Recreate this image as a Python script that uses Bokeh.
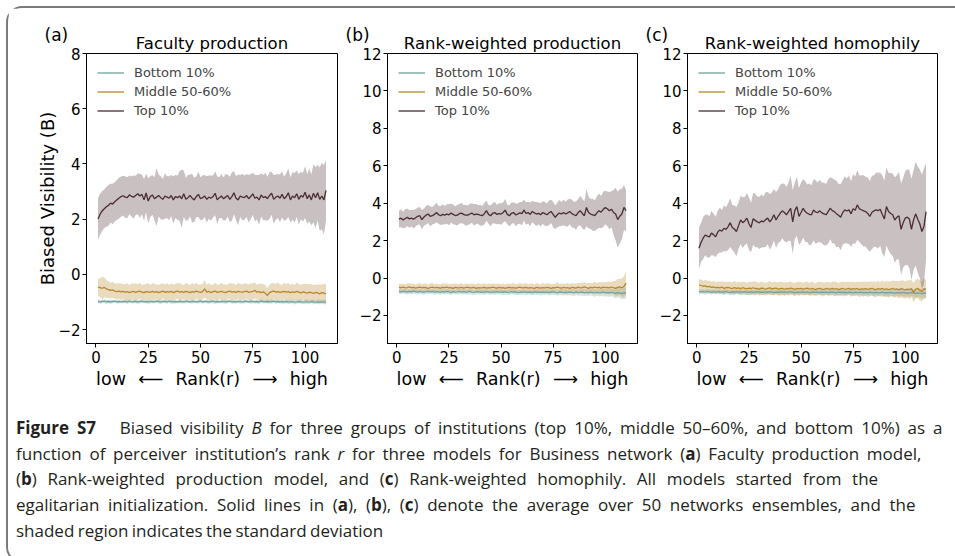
from bokeh.plotting import figure
from bokeh.models import Range1d, FixedTicker, Title, Div
from bokeh.layouts import row, column
from bokeh.embed import file_html
from bokeh.resources import INLINE

# ---------------- data ----------------
ranks = list(range(1, 111))
x_ticks = [0, 25, 50, 75, 100]
ya_ticks = [-2, 0, 2, 4, 6, 8]
ybc_ticks = [-2, 0, 2, 4, 6, 8, 10, 12]
group_names = ["Bottom 10%", "Middle 50-60%", "Top 10%"]
panel_tags = ["(a)", "(b)", "(c)"]
panel_titles = ["Faculty production", "Rank-weighted production", "Rank-weighted homophily"]
x_label = "low\u2002\u2009\u27f5\u2002\u2009Rank(r)\u2002\u2009\u27f6\u2002\u2009high"
y_label = "Biased Visibility (B)"

# Panel (a) Faculty production
a_top_mean = [2.01, 2.18, 2.30, 2.38, 2.45, 2.50, 2.58, 2.55, 2.63, 2.70, 2.76, 2.82,
              2.85, 2.80, 2.78, 2.88, 2.83, 2.80, 2.86, 2.92, 2.84, 2.90, 2.70, 2.95, 2.66, 2.82, 2.88, 2.74, 2.80, 2.86,
              2.78, 2.72, 2.84, 2.80, 2.76, 2.86, 2.70, 2.82, 2.78, 2.84, 2.74, 2.92, 2.72, 2.78, 2.86, 2.76, 2.70, 2.82, 2.90, 2.74,
              2.78, 2.84, 2.72, 2.80, 2.76, 2.82, 2.94, 2.70, 2.78, 2.84, 2.74, 2.80, 2.86, 2.72, 2.82, 2.96, 2.76, 2.70, 2.84, 2.80,
              2.78, 2.86, 2.74, 2.82, 2.92, 2.76, 2.80, 2.70, 2.88, 2.78, 2.82, 2.74, 2.86, 2.94, 2.72, 2.80, 2.84, 2.76, 2.90, 2.74,
              2.82, 2.96, 2.70, 2.84, 2.78, 2.92, 2.72, 2.86, 2.80, 2.98, 2.74, 2.88, 2.70, 2.94, 2.78, 2.96, 2.72, 2.84, 2.70, 3.04]
a_top_sd = [0.75, 0.74, 0.72, 0.70, 0.72, 0.74, 0.70, 0.73, 0.71, 0.72, 0.74, 0.73,
            0.72, 0.76, 0.74, 0.70, 0.73, 0.78, 0.71, 0.74, 0.80, 0.72, 0.76, 0.70, 0.82, 0.74, 0.72, 0.78, 1.05, 0.76,
            0.78, 0.74, 0.82, 0.76, 0.80, 0.74, 0.86, 0.78, 0.80, 0.90, 1.05, 0.84, 0.78, 0.82, 0.76, 0.88, 0.80, 0.74, 0.82, 0.78,
            0.80, 0.76, 0.84, 0.78, 0.82, 0.76, 0.80, 0.86, 0.74, 0.80, 0.78, 0.84, 0.76, 0.82, 0.88, 0.78, 0.80, 0.92, 0.76, 0.84,
            0.80, 0.78, 0.86, 0.82, 0.76, 0.84, 0.80, 0.90, 0.78, 0.82, 0.86, 0.80, 0.84, 0.78, 0.88, 0.82, 0.80, 0.86, 0.84, 0.80,
            0.84, 0.88, 0.82, 0.86, 0.90, 0.84, 0.92, 0.86, 0.88, 0.94, 0.90, 0.96, 0.92, 1.05, 1.10, 1.00, 1.15, 1.20, 1.25, 1.10]
a_mid_mean = [-0.46, -0.48, -0.50, -0.47, -0.52, -0.55, -0.58, -0.56, -0.60, -0.62,
              -0.60, -0.63, -0.61, -0.64, -0.62, -0.66, -0.63, -0.61, -0.65, -0.62, -0.60, -0.64, -0.66, -0.62, -0.63, -0.65, -0.61, -0.64, -0.62, -0.66,
              -0.63, -0.60, -0.65, -0.62, -0.64, -0.61, -0.66, -0.62, -0.60, -0.64, -0.62, -0.65, -0.61, -0.63, -0.66, -0.62, -0.64, -0.60, -0.63, -0.65,
              -0.62, -0.52, -0.64, -0.61, -0.66, -0.62, -0.60, -0.65, -0.63, -0.61, -0.64, -0.66, -0.62, -0.60, -0.64, -0.62, -0.65, -0.61, -0.63, -0.64,
              -0.62, -0.60, -0.65, -0.63, -0.61, -0.58, -0.64, -0.62, -0.66, -0.63, -0.68, -0.76, -0.66, -0.62, -0.60, -0.64, -0.62, -0.65, -0.63, -0.61,
              -0.64, -0.62, -0.66, -0.63, -0.65, -0.61, -0.64, -0.67, -0.63, -0.65, -0.68, -0.64, -0.66, -0.69, -0.65, -0.67, -0.70, -0.66, -0.68, -0.70]
a_mid_sd = [0.30, 0.34, 0.42, 0.36, 0.32, 0.30, 0.28, 0.30, 0.27, 0.29,
            0.28, 0.30, 0.26, 0.29, 0.31, 0.27, 0.30, 0.28, 0.32, 0.27, 0.29, 0.26, 0.30, 0.28, 0.31, 0.27, 0.29, 0.30, 0.26, 0.28,
            0.30, 0.27, 0.29, 0.31, 0.26, 0.28, 0.30, 0.27, 0.29, 0.32, 0.28, 0.26, 0.30, 0.29, 0.27, 0.31, 0.28, 0.30, 0.26, 0.29,
            0.28, 0.31, 0.27, 0.30, 0.28, 0.26, 0.30, 0.29, 0.27, 0.31, 0.28, 0.30, 0.26, 0.29, 0.32, 0.28, 0.27, 0.30, 0.29, 0.28,
            0.30, 0.27, 0.29, 0.31, 0.28, 0.30, 0.26, 0.29, 0.32, 0.28, 0.30, 0.27, 0.29, 0.31, 0.28, 0.30, 0.33, 0.29, 0.27, 0.30,
            0.29, 0.31, 0.28, 0.30, 0.27, 0.32, 0.29, 0.30, 0.28, 0.31, 0.33, 0.29, 0.30, 0.32, 0.28, 0.31, 0.34, 0.30, 0.33, 0.36]
a_bot_mean = [-0.98, -0.99, -0.98, -0.97, -0.99, -0.98, -0.99, -0.98, -0.97, -0.99,
              -0.98, -0.99, -0.98, -0.98, -0.99, -0.97, -0.99, -0.98, -0.98, -0.99,
              -0.98, -0.97, -0.99, -0.98, -0.99, -0.98, -0.98, -0.99, -0.97, -0.98,
              -0.99, -0.98, -0.98, -0.99, -0.97, -0.98, -0.99, -0.98, -0.99, -0.98,
              -0.98, -0.99, -0.97, -0.98, -0.99, -0.98, -0.98, -0.99, -0.98, -0.97,
              -0.99, -0.98, -0.98, -0.99, -0.98, -0.97, -0.99, -0.98, -0.99, -0.98,
              -0.98, -0.99, -0.98, -0.97, -0.99, -0.98, -0.99, -0.98, -0.98, -0.99,
              -0.98, -0.97, -0.99, -0.98, -0.98, -0.99, -0.98, -0.99, -0.97, -0.98,
              -0.99, -0.98, -0.99, -0.98, -0.97, -0.99, -0.98, -0.99, -0.98, -0.99,
              -0.98, -0.99, -0.99, -0.98, -1.00, -0.99, -0.98, -0.99, -1.00, -0.99,
              -0.99, -1.00, -0.98, -0.99, -1.00, -0.99, -1.00, -0.99, -1.00, -1.00]
a_bot_sd = [0.06, 0.07, 0.06, 0.05, 0.07, 0.06, 0.08, 0.06, 0.05, 0.07,
            0.06, 0.05, 0.07, 0.06, 0.08, 0.06, 0.05, 0.07, 0.06, 0.09,
            0.06, 0.07, 0.05, 0.06, 0.08, 0.06, 0.07, 0.05, 0.06, 0.07,
            0.08, 0.06, 0.05, 0.07, 0.06, 0.09, 0.06, 0.07, 0.05, 0.06,
            0.07, 0.06, 0.08, 0.05, 0.06, 0.07, 0.06, 0.05, 0.08, 0.06,
            0.07, 0.05, 0.06, 0.08, 0.06, 0.07, 0.09, 0.06, 0.05, 0.07,
            0.06, 0.08, 0.06, 0.05, 0.07, 0.06, 0.07, 0.05, 0.08, 0.06,
            0.07, 0.06, 0.05, 0.08, 0.06, 0.07, 0.06, 0.09, 0.06, 0.07,
            0.05, 0.07, 0.06, 0.08, 0.06, 0.07, 0.05, 0.06, 0.08, 0.07,
            0.06, 0.08, 0.07, 0.06, 0.09, 0.07, 0.06, 0.08, 0.07, 0.09,
            0.07, 0.08, 0.06, 0.09, 0.07, 0.08, 0.09, 0.07, 0.08, 0.09]

# Panel (b) Rank-weighted production
b_top_mean = [3.15, 3.20, 3.10, 3.18, 3.24, 3.16, 3.20, 3.14, 3.22, 3.30,
              3.33, 3.12, 3.26, 3.36, 3.42, 3.30, 3.33, 3.40, 3.50, 3.38,
              3.33, 3.40, 3.36, 3.42, 3.38, 3.47, 3.40, 3.34, 3.36, 3.44,
              3.47, 3.40, 3.36, 3.36, 3.42, 3.47, 3.38, 3.42, 3.40, 3.36,
              3.33, 3.44, 3.60, 3.40, 3.33, 3.46, 3.50, 3.40, 3.44, 3.42,
              3.50, 3.63, 3.40, 3.33, 3.46, 3.50, 3.38, 3.42, 3.48, 3.44,
              3.63, 3.45, 3.50, 3.40, 3.56, 3.48, 3.42, 3.46, 3.38, 3.50,
              3.44, 3.38, 3.48, 3.56, 3.40, 3.24, 3.38, 3.47, 3.42, 3.50,
              3.42, 3.48, 3.56, 3.44, 3.38, 3.33, 3.50, 3.60, 3.45, 3.33,
              3.77, 3.50, 3.42, 3.38, 3.33, 3.48, 3.60, 3.52, 3.66, 3.77,
              3.70, 3.60, 3.68, 3.50, 3.42, 3.12, 3.30, 3.42, 3.77, 3.60]
b_top_sd = [0.45, 0.48, 0.44, 0.50, 0.46, 0.48, 0.44, 0.50, 0.47, 0.45,
            0.48, 0.52, 0.46, 0.50, 0.48, 0.54, 0.47, 0.50, 0.52, 0.48,
            0.50, 0.54, 0.49, 0.52, 0.56, 0.50, 0.53, 0.49, 0.55, 0.52,
            0.54, 0.50, 0.56, 0.52, 0.55, 0.51, 0.57, 0.53, 0.50, 0.56,
            0.52, 0.58, 0.54, 0.50, 0.56, 0.53, 0.58, 0.52, 0.55, 0.57,
            0.54, 0.60, 0.52, 0.56, 0.58, 0.54, 0.61, 0.55, 0.58, 0.62,
            0.56, 0.60, 0.58, 0.63, 0.57, 0.60, 0.64, 0.58, 0.62, 0.60,
            0.64, 0.60, 0.66, 0.62, 0.68, 0.63, 0.66, 0.70, 0.64, 0.68,
            0.66, 0.72, 0.68, 0.74, 0.70, 0.76, 0.72, 0.78, 0.80, 0.76,
            1.00, 0.84, 0.80, 0.86, 0.82, 0.88, 0.92, 0.86, 0.95, 0.90,
            0.92, 1.00, 0.96, 1.20, 1.40, 1.50, 1.45, 1.35, 1.20, 1.10]
b_mid_mean = [-0.50, -0.52, -0.49, -0.53, -0.51, -0.48, -0.52, -0.50, -0.54, -0.51,
              -0.49, -0.53, -0.50, -0.52, -0.55, -0.51, -0.49, -0.53, -0.50, -0.52,
              -0.54, -0.50, -0.52, -0.49, -0.53, -0.51, -0.55, -0.50, -0.52, -0.53,
              -0.50, -0.54, -0.51, -0.49, -0.53, -0.52, -0.50, -0.55, -0.51, -0.53,
              -0.52, -0.50, -0.54, -0.51, -0.53, -0.49, -0.52, -0.54, -0.50, -0.53,
              -0.51, -0.55, -0.52, -0.50, -0.53, -0.51, -0.54, -0.52, -0.49, -0.53,
              -0.52, -0.50, -0.54, -0.51, -0.53, -0.55, -0.50, -0.52, -0.54, -0.51,
              -0.53, -0.50, -0.52, -0.55, -0.51, -0.53, -0.49, -0.52, -0.54, -0.50,
              -0.53, -0.51, -0.55, -0.50, -0.52, -0.54, -0.49, -0.53, -0.51, -0.47,
              -0.52, -0.55, -0.50, -0.53, -0.48, -0.52, -0.50, -0.54, -0.49, -0.51,
              -0.50, -0.53, -0.48, -0.52, -0.55, -0.50, -0.47, -0.52, -0.45, -0.27]
b_mid_sd = [0.20, 0.22, 0.19, 0.21, 0.23, 0.20, 0.22, 0.19, 0.21, 0.20,
            0.22, 0.19, 0.21, 0.23, 0.20, 0.22, 0.24, 0.20, 0.21, 0.19,
            0.21, 0.23, 0.20, 0.22, 0.19, 0.21, 0.24, 0.20, 0.22, 0.21,
            0.23, 0.20, 0.22, 0.19, 0.21, 0.23, 0.20, 0.22, 0.24, 0.21,
            0.20, 0.22, 0.19, 0.23, 0.21, 0.20, 0.22, 0.24, 0.21, 0.20,
            0.22, 0.21, 0.23, 0.20, 0.22, 0.24, 0.21, 0.20, 0.23, 0.22,
            0.21, 0.23, 0.20, 0.22, 0.25, 0.21, 0.23, 0.22, 0.20, 0.24,
            0.22, 0.21, 0.24, 0.22, 0.20, 0.23, 0.25, 0.22, 0.24, 0.21,
            0.23, 0.25, 0.22, 0.24, 0.21, 0.26, 0.23, 0.25, 0.27, 0.24,
            0.26, 0.28, 0.25, 0.27, 0.30, 0.26, 0.28, 0.31, 0.27, 0.29,
            0.30, 0.33, 0.28, 0.35, 0.40, 0.45, 0.42, 0.50, 0.55, 0.65]
b_bot_mean = [-0.72, -0.74, -0.71, -0.73, -0.75, -0.72, -0.74, -0.70, -0.73, -0.75,
              -0.72, -0.74, -0.76, -0.73, -0.71, -0.74, -0.72, -0.75, -0.73, -0.74,
              -0.76, -0.73, -0.75, -0.72, -0.74, -0.77, -0.73, -0.75, -0.74, -0.72,
              -0.75, -0.73, -0.76, -0.74, -0.72, -0.75, -0.77, -0.74, -0.73, -0.76,
              -0.74, -0.76, -0.73, -0.75, -0.77, -0.74, -0.76, -0.73, -0.75, -0.74,
              -0.76, -0.74, -0.77, -0.75, -0.73, -0.76, -0.74, -0.78, -0.75, -0.76,
              -0.74, -0.77, -0.75, -0.76, -0.78, -0.74, -0.76, -0.75, -0.77, -0.75,
              -0.77, -0.75, -0.78, -0.76, -0.74, -0.77, -0.79, -0.76, -0.75, -0.78,
              -0.76, -0.78, -0.75, -0.77, -0.79, -0.76, -0.78, -0.77, -0.75, -0.79,
              -0.77, -0.79, -0.76, -0.78, -0.80, -0.77, -0.79, -0.78, -0.76, -0.80,
              -0.78, -0.80, -0.77, -0.79, -0.82, -0.78, -0.80, -0.83, -0.79, -0.81]
b_bot_sd = [0.12, 0.13, 0.12, 0.14, 0.13, 0.12, 0.14, 0.13, 0.12, 0.13,
            0.13, 0.12, 0.14, 0.13, 0.15, 0.12, 0.13, 0.14, 0.12, 0.13,
            0.14, 0.13, 0.12, 0.14, 0.13, 0.15, 0.13, 0.12, 0.14, 0.13,
            0.13, 0.14, 0.12, 0.15, 0.13, 0.14, 0.12, 0.13, 0.15, 0.14,
            0.13, 0.15, 0.14, 0.12, 0.14, 0.13, 0.15, 0.14, 0.13, 0.14,
            0.15, 0.13, 0.14, 0.16, 0.13, 0.14, 0.15, 0.13, 0.14, 0.15,
            0.14, 0.16, 0.13, 0.15, 0.14, 0.16, 0.15, 0.14, 0.16, 0.15,
            0.15, 0.14, 0.16, 0.15, 0.17, 0.14, 0.16, 0.15, 0.17, 0.16,
            0.16, 0.15, 0.17, 0.16, 0.18, 0.15, 0.17, 0.16, 0.18, 0.17,
            0.17, 0.19, 0.16, 0.18, 0.20, 0.17, 0.19, 0.18, 0.21, 0.19,
            0.20, 0.22, 0.19, 0.23, 0.26, 0.24, 0.28, 0.30, 0.32, 0.28]

# Panel (c) Rank-weighted homophily
c_top_mean = [1.59, 1.90, 2.13, 2.30, 2.24, 2.20, 2.40, 2.32, 2.20, 2.45,
              2.57, 2.50, 2.66, 2.60, 2.75, 2.96, 2.70, 2.62, 2.48, 2.80,
              3.10, 2.96, 3.05, 3.20, 2.90, 2.70, 3.16, 3.08, 3.00, 2.95,
              3.05, 3.00, 3.12, 3.20, 3.00, 3.15, 3.38, 3.10, 3.30, 3.46,
              3.59, 3.50, 3.38, 3.55, 3.73, 3.00, 3.60, 3.82, 3.29, 3.50,
              3.73, 3.55, 3.46, 3.40, 3.38, 3.64, 3.52, 3.50, 3.59, 3.48,
              3.43, 3.38, 3.55, 3.73, 3.60, 3.55, 3.43, 3.35, 3.25, 3.50,
              3.64, 3.58, 3.64, 3.43, 3.70, 3.62, 3.91, 3.70, 3.65, 3.59,
              3.55, 3.45, 3.29, 3.50, 3.59, 3.64, 3.60, 3.68, 3.40, 3.16,
              3.82, 3.55, 3.45, 3.38, 3.10, 3.25, 3.32, 2.60, 2.95, 3.20,
              3.25, 3.15, 2.60, 3.10, 3.43, 3.14, 2.90, 2.48, 2.75, 3.55]
c_top_sd = [1.10, 1.05, 1.12, 1.08, 1.15, 1.10, 1.18, 1.12, 1.08, 1.15,
            1.20, 1.14, 1.22, 1.18, 1.25, 1.30, 1.20, 1.26, 1.32, 1.24,
            1.30, 1.36, 1.28, 1.34, 1.40, 1.32, 1.38, 1.44, 1.36, 1.40,
            1.42, 1.36, 1.46, 1.40, 1.48, 1.42, 1.38, 1.50, 1.44, 1.52,
            1.46, 1.54, 1.48, 1.56, 1.75, 1.70, 1.50, 1.58, 1.52, 1.60,
            1.56, 1.62, 1.54, 1.66, 1.58, 1.64, 1.70, 1.60, 1.66, 1.62,
            1.68, 1.64, 1.72, 1.66, 1.74, 1.70, 1.78, 1.68, 1.76, 1.72,
            1.78, 1.74, 1.82, 1.76, 1.84, 1.80, 1.86, 1.78, 1.84, 1.90,
            1.86, 1.92, 1.88, 1.96, 1.90, 1.98, 2.02, 1.96, 2.08, 2.04,
            2.10, 2.06, 2.16, 2.20, 2.28, 2.24, 2.36, 2.45, 2.40, 2.50,
            2.56, 2.62, 2.70, 2.66, 2.78, 2.84, 2.90, 3.05, 3.10, 2.60]
c_mid_mean = [-0.36, -0.40, -0.44, -0.42, -0.47, -0.45, -0.50, -0.48, -0.52, -0.50,
              -0.53, -0.49, -0.55, -0.52, -0.50, -0.54, -0.56, -0.51, -0.55, -0.53,
              -0.57, -0.52, -0.55, -0.58, -0.54, -0.56, -0.52, -0.57, -0.55, -0.59,
              -0.54, -0.56, -0.60, -0.55, -0.53, -0.58, -0.56, -0.54, -0.59, -0.57,
              -0.55, -0.60, -0.56, -0.58, -0.54, -0.57, -0.61, -0.56, -0.58, -0.55,
              -0.59, -0.57, -0.54, -0.60, -0.56, -0.58, -0.62, -0.57, -0.55, -0.59,
              -0.61, -0.56, -0.58, -0.60, -0.55, -0.59, -0.57, -0.62, -0.58, -0.56,
              -0.60, -0.58, -0.55, -0.61, -0.57, -0.59, -0.56, -0.62, -0.58, -0.60,
              -0.57, -0.61, -0.58, -0.55, -0.60, -0.62, -0.57, -0.59, -0.56, -0.61,
              -0.58, -0.62, -0.59, -0.56, -0.61, -0.58, -0.63, -0.57, -0.60, -0.64,
              -0.59, -0.62, -0.57, -0.78, -0.60, -0.55, -0.66, -0.72, -0.58, -0.60]
c_mid_sd = [0.30, 0.32, 0.29, 0.31, 0.33, 0.30, 0.32, 0.34, 0.31, 0.30,
            0.33, 0.31, 0.35, 0.32, 0.30, 0.34, 0.32, 0.36, 0.31, 0.33,
            0.35, 0.32, 0.34, 0.31, 0.36, 0.33, 0.35, 0.38, 0.32, 0.34,
            0.36, 0.33, 0.35, 0.32, 0.37, 0.34, 0.36, 0.33, 0.35, 0.38,
            0.34, 0.36, 0.33, 0.37, 0.35, 0.32, 0.36, 0.34, 0.38, 0.35,
            0.33, 0.37, 0.35, 0.34, 0.38, 0.36, 0.33, 0.37, 0.35, 0.39,
            0.36, 0.34, 0.38, 0.35, 0.37, 0.40, 0.36, 0.34, 0.38, 0.36,
            0.39, 0.37, 0.35, 0.40, 0.37, 0.38, 0.36, 0.41, 0.38, 0.40,
            0.37, 0.41, 0.39, 0.37, 0.42, 0.39, 0.41, 0.38, 0.43, 0.40,
            0.42, 0.44, 0.40, 0.43, 0.45, 0.42, 0.46, 0.44, 0.48, 0.45,
            0.47, 0.50, 0.46, 0.52, 0.49, 0.53, 0.56, 0.52, 0.55, 0.50]
c_bot_mean = [-0.72, -0.74, -0.73, -0.75, -0.72, -0.74, -0.76, -0.73, -0.75, -0.74,
              -0.73, -0.76, -0.74, -0.72, -0.75, -0.77, -0.74, -0.76, -0.73, -0.75,
              -0.74, -0.76, -0.73, -0.75, -0.77, -0.74, -0.76, -0.75, -0.73, -0.76,
              -0.75, -0.77, -0.74, -0.76, -0.73, -0.75, -0.78, -0.75, -0.76, -0.74,
              -0.76, -0.74, -0.77, -0.75, -0.73, -0.76, -0.78, -0.75, -0.77, -0.76,
              -0.74, -0.77, -0.75, -0.78, -0.76, -0.74, -0.77, -0.75, -0.78, -0.76,
              -0.77, -0.75, -0.78, -0.76, -0.74, -0.77, -0.79, -0.76, -0.75, -0.78,
              -0.76, -0.78, -0.75, -0.77, -0.79, -0.76, -0.78, -0.77, -0.75, -0.79,
              -0.77, -0.79, -0.76, -0.78, -0.80, -0.77, -0.79, -0.78, -0.76, -0.80,
              -0.78, -0.80, -0.77, -0.79, -0.81, -0.78, -0.80, -0.79, -0.77, -0.81,
              -0.79, -0.81, -0.78, -0.80, -0.83, -0.79, -0.81, -0.84, -0.80, -0.82]
c_bot_sd = [0.12, 0.13, 0.12, 0.14, 0.13, 0.12, 0.14, 0.13, 0.12, 0.13,
            0.13, 0.12, 0.14, 0.13, 0.15, 0.12, 0.13, 0.14, 0.12, 0.13,
            0.14, 0.13, 0.12, 0.14, 0.13, 0.15, 0.13, 0.12, 0.14, 0.13,
            0.13, 0.14, 0.12, 0.15, 0.13, 0.14, 0.12, 0.13, 0.15, 0.14,
            0.13, 0.15, 0.14, 0.12, 0.14, 0.13, 0.15, 0.14, 0.13, 0.14,
            0.15, 0.13, 0.14, 0.16, 0.13, 0.14, 0.15, 0.13, 0.14, 0.15,
            0.14, 0.16, 0.13, 0.15, 0.14, 0.16, 0.15, 0.14, 0.16, 0.15,
            0.15, 0.14, 0.16, 0.15, 0.17, 0.14, 0.16, 0.15, 0.17, 0.16,
            0.16, 0.15, 0.17, 0.16, 0.18, 0.15, 0.17, 0.16, 0.18, 0.17,
            0.17, 0.19, 0.16, 0.18, 0.19, 0.17, 0.19, 0.18, 0.20, 0.19,
            0.19, 0.21, 0.18, 0.22, 0.24, 0.22, 0.25, 0.27, 0.26, 0.24]

caption_lines = [
    "<b>Figure S7</b>&nbsp;&nbsp;&nbsp;Biased visibility <i>B</i> for three groups of institutions (top 10%, middle 50\u201360%, and bottom 10%) as a",
    "function of perceiver institution\u2019s rank <i>r</i> for three models for Business network (<b>a</b>) Faculty production model,",
    "(<b>b</b>) Rank-weighted production model, and (<b>c</b>) Rank-weighted homophily. All models started from the",
    "egalitarian initialization. Solid lines in (<b>a</b>), (<b>b</b>), (<b>c</b>) denote the average over 50 networks ensembles, and the",
    "shaded region indicates the standard deviation",
]

# ---------------- style ----------------
FONT = "DejaVu Sans"
COLORS = ["#72a39c", "#b8882c", "#4b2d34"]
FRAME_H = 290
TOP_B = 45
BOT_B = 57


def add_title(p, **kw):
    try:
        t = Title(**kw)
    except Exception:
        kw["standoff"] = 0
        t = Title(**kw)
    p.add_layout(t, "above")


def make_panel(idx, ylo, yhi, yticks, series, bl, fw, br, ylabel):
    p = figure(width=bl + fw + br, height=TOP_B + FRAME_H + BOT_B,
               x_range=Range1d(-4.5, 115.5), y_range=Range1d(ylo, yhi),
               output_backend="svg", toolbar_location=None,
               min_border_left=bl, min_border_right=br,
               min_border_top=TOP_B, min_border_bottom=BOT_B)
    p.background_fill_color = "white"
    p.border_fill_color = "white"
    p.outline_line_color = "black"
    p.outline_line_width = 1
    p.outline_line_alpha = 1
    p.xgrid.grid_line_color = None
    p.ygrid.grid_line_color = None

    for (mean, sd), c in zip(series, COLORS):
        lo = [m - s for m, s in zip(mean, sd)]
        hi = [m + s for m, s in zip(mean, sd)]
        p.varea(x=ranks, y1=lo, y2=hi, fill_color=c, fill_alpha=0.3)
    for (mean, sd), c, name in zip(series, COLORS, group_names):
        p.line(ranks, mean, line_color=c, line_width=1.3, legend_label=name)

    for ax in (p.xaxis[0], p.yaxis[0]):
        ax.axis_line_color = "black"
        ax.major_tick_line_color = "black"
        ax.major_tick_out = 4
        ax.major_tick_in = 0
        ax.minor_tick_line_color = None
        ax.major_label_text_font = FONT
        ax.major_label_text_font_size = "15px"
        ax.major_label_text_color = "black"
        ax.major_label_standoff = 3
        ax.axis_label_text_font = FONT
        ax.axis_label_text_font_style = "normal"
        ax.axis_label_text_color = "black"
    p.xaxis.ticker = FixedTicker(ticks=x_ticks)
    p.yaxis.ticker = FixedTicker(ticks=yticks)
    p.yaxis.major_label_overrides = {-2: "\u22122"}
    p.yaxis.major_label_standoff = 2
    p.xaxis.axis_label = x_label
    p.xaxis.axis_label_text_font_size = "17.5px"
    p.xaxis.axis_label_standoff = 3
    if ylabel:
        p.yaxis.axis_label = y_label
        p.yaxis.axis_label_text_font_size = "18px"
        p.yaxis.axis_label_standoff = -3

    lg = p.legend[0]
    lg.location = "top_left"
    lg.border_line_alpha = 0
    lg.background_fill_alpha = 0
    lg.margin = 0
    lg.padding = 11
    lg.spacing = 2
    lg.label_height = 17
    lg.glyph_height = 17
    lg.glyph_width = 27
    lg.label_standoff = 10
    lg.label_text_font = FONT
    lg.label_text_font_size = "13px"

    add_title(p, text=panel_titles[idx], align="center", vertical_align="bottom",
              standoff=2, text_font=FONT, text_font_size="16.5px",
              text_font_style="normal", text_color="black")
    add_title(p, text=panel_tags[idx], align="left", vertical_align="bottom",
              offset=-42, standoff=-28, text_font=FONT, text_font_size="17px",
              text_font_style="normal", text_color="black")
    return p


fa = make_panel(0, -2.5, 8, ya_ticks,
                [(a_bot_mean, a_bot_sd), (a_mid_mean, a_mid_sd), (a_top_mean, a_top_sd)],
                78, 251, 5, True)
fb = make_panel(1, -3.5, 12, ybc_ticks,
                [(b_bot_mean, b_bot_sd), (b_mid_mean, b_mid_sd), (b_top_mean, b_top_sd)],
                45, 250, 5, False)
fc = make_panel(2, -3.5, 12, ybc_ticks,
                [(c_bot_mean, c_bot_sd), (c_mid_mean, c_mid_sd), (c_top_mean, c_top_sd)],
                45, 250, 18, False)

word_spacing = [3.5, 3.3, 6.2, 4.2, -1.0]
cap_body = "<br>".join(
    '<span style="word-spacing:%.1fpx">%s</span>' % (ws, ln)
    for ws, ln in zip(word_spacing, caption_lines))
cap_html = ('<div style="padding:10px 0 0 3px; font-family:\'Open Sans\'; font-size:17px; '
            'line-height:25.7px; color:#231f20; white-space:nowrap;">' + cap_body + "</div>")
cap = Div(text=cap_html, width=947, height=151)

# Bokeh's page template has no body margin: add the 8px page margin here.
layout = column(row(fa, fb, fc), cap,
                styles={"box-shadow": "0 0 0 2px #7a7a7a",
                        "border-radius": "14px 0 0 14px",
                        "background-color": "white",
                        "margin-left": "8px", "margin-top": "8px"})

open("out.html", "w").write(file_html(layout, INLINE))
